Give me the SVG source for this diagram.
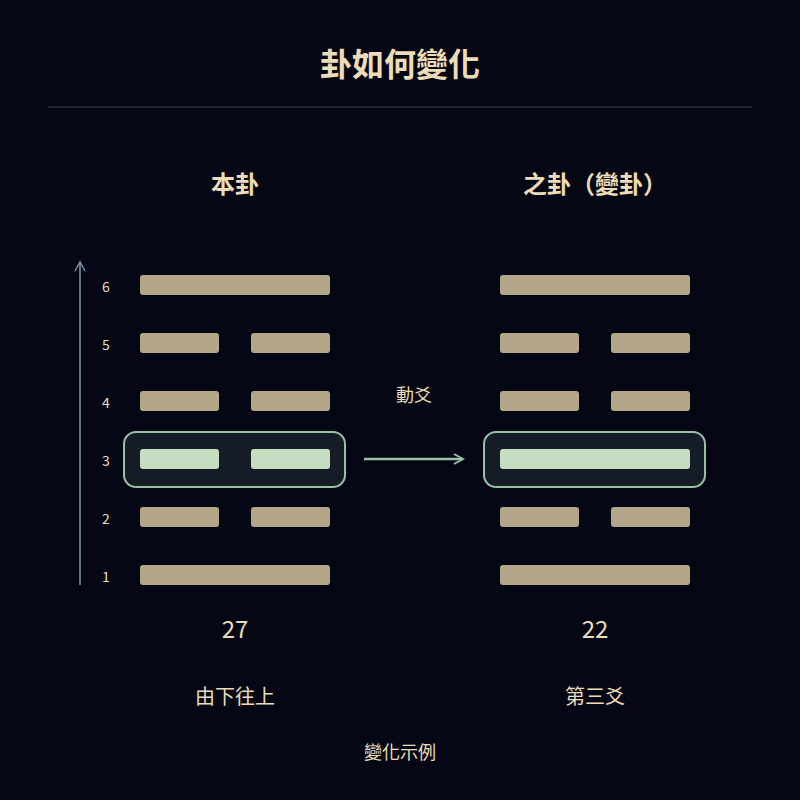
<svg xmlns="http://www.w3.org/2000/svg" width="800" height="800" viewBox="0 0 800 800">
<style>
text{font-family:"Noto Sans CJK TC","Noto Sans",sans-serif;fill:#ecdcb8;text-anchor:middle}
.y{fill:#b3a588}
.c{fill:#c5dec2}
.box{fill:#141d26;stroke:#9abfa8;stroke-width:2}
.n{font-size:14px}
</style>
<defs><marker id="ah" markerWidth="12" markerHeight="12" refX="10" refY="6" orient="auto" markerUnits="userSpaceOnUse"><path d="M1,1 L10,6 L1,11" fill="none" stroke="#9abfa8" stroke-width="2"/></marker>
<marker id="au" markerWidth="12" markerHeight="12" refX="10" refY="6" orient="auto" markerUnits="userSpaceOnUse"><path d="M1,1 L10,6 L1,11" fill="none" stroke="#7f95a6" stroke-width="1.5"/></marker></defs>
<rect width="800" height="800" fill="#050814"/>
<text x="400" y="76" font-size="32" font-weight="bold">卦如何變化</text>
<line x1="48" y1="107" x2="752" y2="107" stroke="#2a2f38" stroke-width="1.5"/>
<text x="235" y="193" font-size="24" font-weight="bold">本卦</text>
<text x="595" y="193" font-size="24" font-weight="bold">之卦（變卦）</text>
<g id="connectors">
<line x1="80" y1="585" x2="80" y2="262" stroke="#7f95a6" stroke-width="1.5" marker-end="url(#au)"/>
<line x1="364" y1="459" x2="463" y2="459" stroke="#9abfa8" stroke-width="2.5" marker-end="url(#ah)"/>
</g>
<text x="414" y="402" font-size="18">動爻</text>
<g id="labels" class="n">
<text x="106" y="292" font-size="14">6</text><text x="106" y="350" font-size="14">5</text><text x="106" y="408" font-size="14">4</text><text x="106" y="466" font-size="14">3</text><text x="106" y="524" font-size="14">2</text><text x="106" y="582" font-size="14">1</text>
</g>
<g id="hex27">
<rect class="y" x="140" y="275" width="190" height="20" rx="3"/>
<rect class="y" x="140" y="333" width="79" height="20" rx="3"/><rect class="y" x="251" y="333" width="79" height="20" rx="3"/>
<rect class="y" x="140" y="391" width="79" height="20" rx="3"/><rect class="y" x="251" y="391" width="79" height="20" rx="3"/>
<rect class="box" x="124" y="432" width="221" height="55" rx="12"/>
<rect class="c" x="140" y="449" width="79" height="20" rx="3"/><rect class="c" x="251" y="449" width="79" height="20" rx="3"/>
<rect class="y" x="140" y="507" width="79" height="20" rx="3"/><rect class="y" x="251" y="507" width="79" height="20" rx="3"/>
<rect class="y" x="140" y="565" width="190" height="20" rx="3"/>
</g>
<g id="hex22">
<rect class="y" x="500" y="275" width="190" height="20" rx="3"/>
<rect class="y" x="500" y="333" width="79" height="20" rx="3"/><rect class="y" x="611" y="333" width="79" height="20" rx="3"/>
<rect class="y" x="500" y="391" width="79" height="20" rx="3"/><rect class="y" x="611" y="391" width="79" height="20" rx="3"/>
<rect class="box" x="484" y="432" width="221" height="55" rx="12"/>
<rect class="c" x="500" y="449" width="190" height="20" rx="3"/>
<rect class="y" x="500" y="507" width="79" height="20" rx="3"/><rect class="y" x="611" y="507" width="79" height="20" rx="3"/>
<rect class="y" x="500" y="565" width="190" height="20" rx="3"/>
</g>
<text x="235" y="638" font-size="24">27</text>
<text x="595" y="638" font-size="24">22</text>
<text x="235" y="704" font-size="20">由下往上</text>
<text x="595" y="704" font-size="20">第三爻</text>
<text x="400" y="759" font-size="18">變化示例</text>
</svg>
